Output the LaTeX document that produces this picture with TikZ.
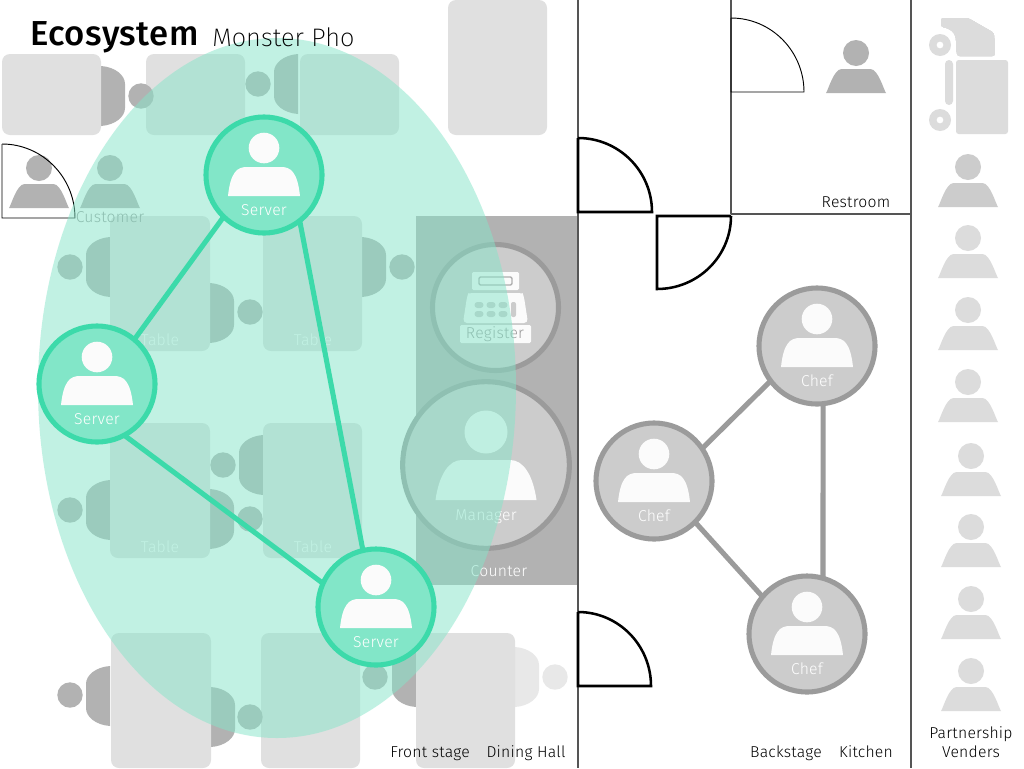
\documentclass[tikz,border=0pt]{standalone}
\usepackage{fontspec}
\setmainfont{Fira Sans Light}[LetterSpace=1.5]
\newfontfamily\titlefont{Fira Sans Medium}[LetterSpace=1.5]
\newfontfamily\subfont{Fira Sans ExtraLight}[LetterSpace=0.3]
\definecolor{tablegray}{RGB}{224,224,224}
\definecolor{chairgray}{RGB}{178,178,178}
\definecolor{lightchair}{RGB}{232,232,232}
\definecolor{cteal}{RGB}{60,218,170}
\definecolor{cfill}{RGB}{130,230,200}
\definecolor{ellipsecol}{RGB}{133,229,201}
\definecolor{chefedge}{RGB}{155,155,155}
\definecolor{cheffill}{RGB}{204,204,204}
\definecolor{vend}{RGB}{220,220,220}
\definecolor{iconwhite}{RGB}{251,251,251}
\definecolor{wall}{RGB}{85,85,85}
\tikzset{
  x=0.75pt,y=-0.75pt,
  lab/.style={font=\fontsize{11.8pt}{13pt}\selectfont,inner sep=0pt,text=black,anchor=base},
  whitelab/.style={lab,text=white},
  wallline/.style={draw=wall,line width=0.85pt},
  thindoor/.style={draw=black,line width=0.7pt},
  thickdoor/.style={draw=black,line width=1.9pt},
  hub/.style={circle,line width=3.8pt,inner sep=0pt,outer sep=0pt},
  serverhub/.style={hub,draw=cteal,fill=cfill,minimum size=87pt},
  chefhub/.style={hub,draw=chefedge,fill=cheffill,minimum size=87pt},
  tealedge/.style={draw=cteal,line width=3.8pt},
  grayedge/.style={draw=chefedge,line width=3.8pt},
}
% person: #1 cx, #2 head y, #3 head r, #4 half body, #5 body top, #6 body bottom, #7 colour
\newcommand{\person}[7]{%
  \fill[#7] (#1,#2) circle [radius=#3];
  \fill[#7] ({#1-#4},#6) .. controls ({#1-0.93*#4},{#5+0.38*(#6-#5)}) and ({#1-0.74*#4},#5) .. ({#1-0.48*#4},#5)
     -- ({#1+0.48*#4},#5) .. controls ({#1+0.74*#4},#5) and ({#1+0.93*#4},{#5+0.38*(#6-#5)}) .. ({#1+#4},#6) -- cycle;
}
\newcommand{\smallperson}[3]{\person{#1}{#2}{13}{30}{#2+16}{#2+40}{#3}}
\newcommand{\chairR}[3]{%
  \fill[#3] (#1,{#2-30}) .. controls ({#1+14},{#2-29}) and ({#1+24},{#2-21}) .. ({#1+24},{#2-12})
    -- ({#1+24},{#2+12}) .. controls ({#1+24},{#2+21}) and ({#1+14},{#2+29}) .. (#1,{#2+30}) -- cycle;}
\newcommand{\chairL}[3]{%
  \fill[#3] (#1,{#2-30}) .. controls ({#1-14},{#2-29}) and ({#1-24},{#2-21}) .. ({#1-24},{#2-12})
    -- ({#1-24},{#2+12}) .. controls ({#1-24},{#2+21}) and ({#1-14},{#2+29}) .. (#1,{#2+30}) -- cycle;}
\newcommand{\seatdot}[3]{\fill[#3] (#1,#2) circle [radius=12.7];}
\begin{document}
\begin{tikzpicture}
\useasboundingbox (0,0) rectangle (1024,768);
\fill[white] (0,0) rectangle (1024,768);
% counter
\fill[chairgray] (416,216) rectangle (578,585);
% chairs
\chairR{101}{96}{chairgray}
\chairL{298}{84}{chairgray}
\chairL{110}{267}{chairgray}
\chairR{210}{313}{chairgray}
\chairR{362}{267}{chairgray}
\chairL{110}{510}{chairgray}
\chairR{210}{519}{chairgray}
\chairL{263}{465}{chairgray}
\chairL{110}{696}{chairgray}
\chairR{211}{717}{chairgray}
\chairL{416}{677}{chairgray}
\chairR{515}{677}{lightchair}
% tables
\foreach \xa/\ya/\xb/\yb in {2/54/101/135,146/54/245/135,300/54/399/135,448/0/547/135,
  110/216/210/351,263/216/362/351,110/423/210/558,263/423/362/558,
  111/633/211/768,261/633/360/768,416/633/515/768}
  \fill[tablegray,rounded corners=6pt] (\xa,\ya) rectangle (\xb,\yb);
% seats
\seatdot{141}{96}{chairgray}
\seatdot{258}{84}{chairgray}
\seatdot{70}{267}{chairgray}
\seatdot{250}{312}{chairgray}
\seatdot{402}{267}{chairgray}
\seatdot{70}{510}{chairgray}
\seatdot{250}{519}{chairgray}
\seatdot{223}{465}{chairgray}
\seatdot{70}{695}{chairgray}
\seatdot{250}{717}{chairgray}
\seatdot{375}{677}{chairgray}
\seatdot{555}{677}{lightchair}
\foreach \p/\q in {160/345,313/345,160/552,313/552}
  \node[whitelab] at (\p,\q) {Table};
% customers
\smallperson{39}{168}{chairgray}
\smallperson{110}{168}{chairgray}
\node[lab,text=chairgray!85!black] (customer) at (110,222) {Customer};
% door at customer
\draw[thindoor] (2,144) -- (2,218) -- (75,218) arc [start angle=0,end angle=90,x radius=73,y radius=-74];
% register
\node[hub,draw=chefedge,fill=cheffill,minimum size=94.5pt] (register) at (495.5,307.5) {};
\fill[iconwhite,rounded corners=1pt] (472,272) rectangle (519,290);
\draw[cheffill!85!black,line width=1pt,rounded corners=1pt] (479,277) rectangle (512,285);
\fill[iconwhite,rounded corners=3pt] (463,323) -- (467,297) .. controls (468,294) and (472,293) .. (476,293) -- (515,293) .. controls (519,293) and (523,294) .. (524,297) -- (528,323) -- cycle;
\foreach \bx in {479,491,503}{\foreach \by in {305,314}{
  \fill[cheffill,rounded corners=2.2pt] ({\bx-4.5},{\by-3}) rectangle ({\bx+4.5},{\by+3});}}
\fill[cheffill,rounded corners=1.5pt] (511,302) rectangle (516,317);
\fill[iconwhite,rounded corners=1pt] (460,325) rectangle (531,343);
\node[lab,text=chefedge] (registerlabel) at (495,338) {Register};
% manager
\node[hub,draw=chefedge,fill=cheffill,minimum size=125pt] (manager) at (486,465) {};
\person{486}{432}{21.5}{50.5}{460}{500}{iconwhite}
\node[whitelab] (managerlabel) at (486,520) {Manager};
\node[whitelab] (counter) at (499,576) {Counter};
% large ellipse
\fill[ellipsecol,fill opacity=0.5] (277,388) ellipse [x radius=239,y radius=350];
% walls
\draw[wallline] (578,0) -- (578,768);
\draw[wallline] (911,0) -- (911,768);
\draw[wallline] (731,0) -- (731,214);
\draw[wallline] (731,214) -- (911,214);
% doors
\draw[thickdoor] (578,138) -- (578,212) -- (652,212) arc [start angle=0,end angle=90,x radius=74,y radius=-74];
\draw[thickdoor] (731,216) -- (657,216) -- (657,289) arc [start angle=90,end angle=0,x radius=74,y radius=73];
\draw[thickdoor] (578,612) -- (578,686) -- (651,686) arc [start angle=0,end angle=90,x radius=73,y radius=-74];
\draw[thindoor] (731,18) -- (731,92) -- (804,92) arc [start angle=0,end angle=90,x radius=73,y radius=-74];
% servers
\node[serverhub] (s1) at (264,175) {};
\node[serverhub] (s2) at (97,384) {};
\node[serverhub] (s3) at (376,607) {};
\draw[tealedge] (s1.226) -- (s2.50);
\draw[tealedge] (s1.-52) -- (s3.103);
\draw[tealedge] (s2.-62) -- (s3.156);
\foreach \n/\cx/\cy in {s1/264/175,s2/97/384,s3/376/607}{
  \person{\cx}{\cy-27}{15.3}{36}{\cy-8}{\cy+21}{iconwhite}
  \node[whitelab] at (\cx,\cy+40) {Server};
}
% chefs
\node[chefhub] (c1) at (817,346) {};
\node[chefhub] (c2) at (654,481) {};
\node[chefhub] (c3) at (807,634) {};
\draw[grayedge] (c1.217.5) -- (c2.34.8);
\draw[grayedge] (c1.-84) -- (c3.74.6);
\draw[grayedge] (c2.-45.7) -- (c3.140);
\foreach \n/\cx/\cy in {c1/817/346,c2/654/481,c3/807/634}{
  \person{\cx}{\cy-27}{15.3}{36}{\cy-8}{\cy+21}{iconwhite}
  \node[whitelab] at (\cx,\cy+40) {Chef};
}
% restroom person
\smallperson{856}{53}{chairgray}
% vendors
\smallperson{968}{167}{cheffill}
\foreach \v/\w in {968/238,968/310,968/382,971/456,971/527,971/599,971/671}
  \smallperson{\v}{\w}{vend}
% truck
\fill[vend,rounded corners=2pt] (941,18) -- (968,18) -- (994,33) -- (995,56) -- (957,56) -- (956,40) .. controls (955,32) and (949,28) .. (941,27) -- cycle;
\fill[vend,even odd rule] (940,45) circle [radius=11] (940,45) circle [radius=3.5];
\fill[vend,even odd rule] (940,120) circle [radius=11] (940,120) circle [radius=3.5];
\fill[vend,rounded corners=3pt] (945,60) rectangle (953,105);
\fill[vend,rounded corners=2pt] (956,60) rectangle (1008,134);
% labels
\node[lab] (restroom) at (856,207) {Restroom};
\node[lab] (front) at (430,757) {Front stage};
\node[lab] (dining) at (526,757) {Dining Hall};
\node[lab] (back) at (786,757) {Backstage};
\node[lab] (kitchen) at (866,757) {Kitchen};
\node[lab] (partner1) at (971,738) {Partnership};
\node[lab] (partner2) at (971,757) {Venders};
\node[anchor=base west,inner sep=0pt,font=\fontsize{26pt}{30pt}\titlefont] (title) at (30,45) {Ecosystem};
\node[anchor=base west,inner sep=0pt,font=\fontsize{19pt}{22pt}\subfont] (subtitle) at (212,46) {Monster Pho};
\end{tikzpicture}
\end{document}
